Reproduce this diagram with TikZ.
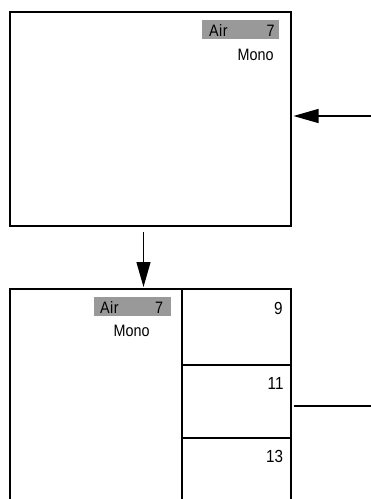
\documentclass[tikz,border=0pt]{standalone}
\usepackage{fontspec}
\setmainfont{Liberation Sans}
\newfontfamily\narrowsans[FakeStretch=0.87]{Liberation Sans}
\usetikzlibrary{arrows.meta}
\definecolor{tagfill}{RGB}{153,153,153}
\begin{document}
\begin{tikzpicture}[x=1pt,y=-1pt,
  frame/.style={draw=black,line width=1.3pt,inner sep=0pt,outer sep=0pt},
  tag/.style={fill=tagfill,inner sep=0pt,outer sep=0pt,minimum width=77pt,minimum height=19pt},
  lbl/.style={inner sep=0pt,outer sep=0pt,font=\narrowsans\fontsize{16.5}{19}\selectfont},
  numlbl/.style={inner sep=0pt,outer sep=0pt,font=\narrowsans\fontsize{17.5}{20}\selectfont},
  conn/.style={line width=1.2pt,-{Triangle[length=25pt,width=14pt]}},
  plain/.style={line width=1.2pt}]
\clip (0,0) rectangle (371,499);
% top box
\node[frame,minimum width=281pt,minimum height=214pt] (top) at (150.5,119) {};
\node[tag] (tagA) at (240.5,29.5) {};
\node[lbl,anchor=base west] (airA) at (209,36) {A\kern0.6pt i\kern0.6pt r};
\node[lbl,anchor=base east] (numA) at (274.5,36) {7};
\node[lbl,anchor=base east] (monoA) at (273.5,60) {Mono};
% bottom box
\node[frame,minimum width=172pt,minimum height=231pt] (left) at (96,404.5) {};
\node[frame,minimum width=109pt,minimum height=76pt] (c1) at (236.5,327) {};
\node[frame,minimum width=109pt,minimum height=73pt] (c2) at (236.5,401.5) {};
\node[frame,minimum width=109pt,minimum height=72pt] (c3) at (236.5,474) {};
\node[tag] (tagB) at (132,306.5) {};
\node[lbl,anchor=base west] (airB) at (100,313.5) {A\kern0.6pt i\kern0.6pt r};
\node[lbl,anchor=base east] (numB) at (163,313.5) {7};
\node[lbl,anchor=base east] (monoB) at (149.5,336) {Mono};
\node[numlbl,anchor=base east] (n9) at (282.5,314.3) {9};
\node[numlbl,anchor=base east] (n11) at (283.5,389) {11};
\node[numlbl,anchor=base east] (n13) at (283,462.3) {13};
% connectors
\coordinate (inR) at (371,116);
\coordinate (tipR) at (293.5,116);
\draw[conn] (inR) -- (tipR);
\coordinate (dStart) at (143.5,232);
\coordinate (dTip) at (143.5,287);
\draw[conn] (dStart) -- (dTip);
\coordinate (oStart) at (293.5,406);
\coordinate (oEnd) at (371,406);
\draw[plain] (oStart) -- (oEnd);
\end{tikzpicture}
\end{document}
